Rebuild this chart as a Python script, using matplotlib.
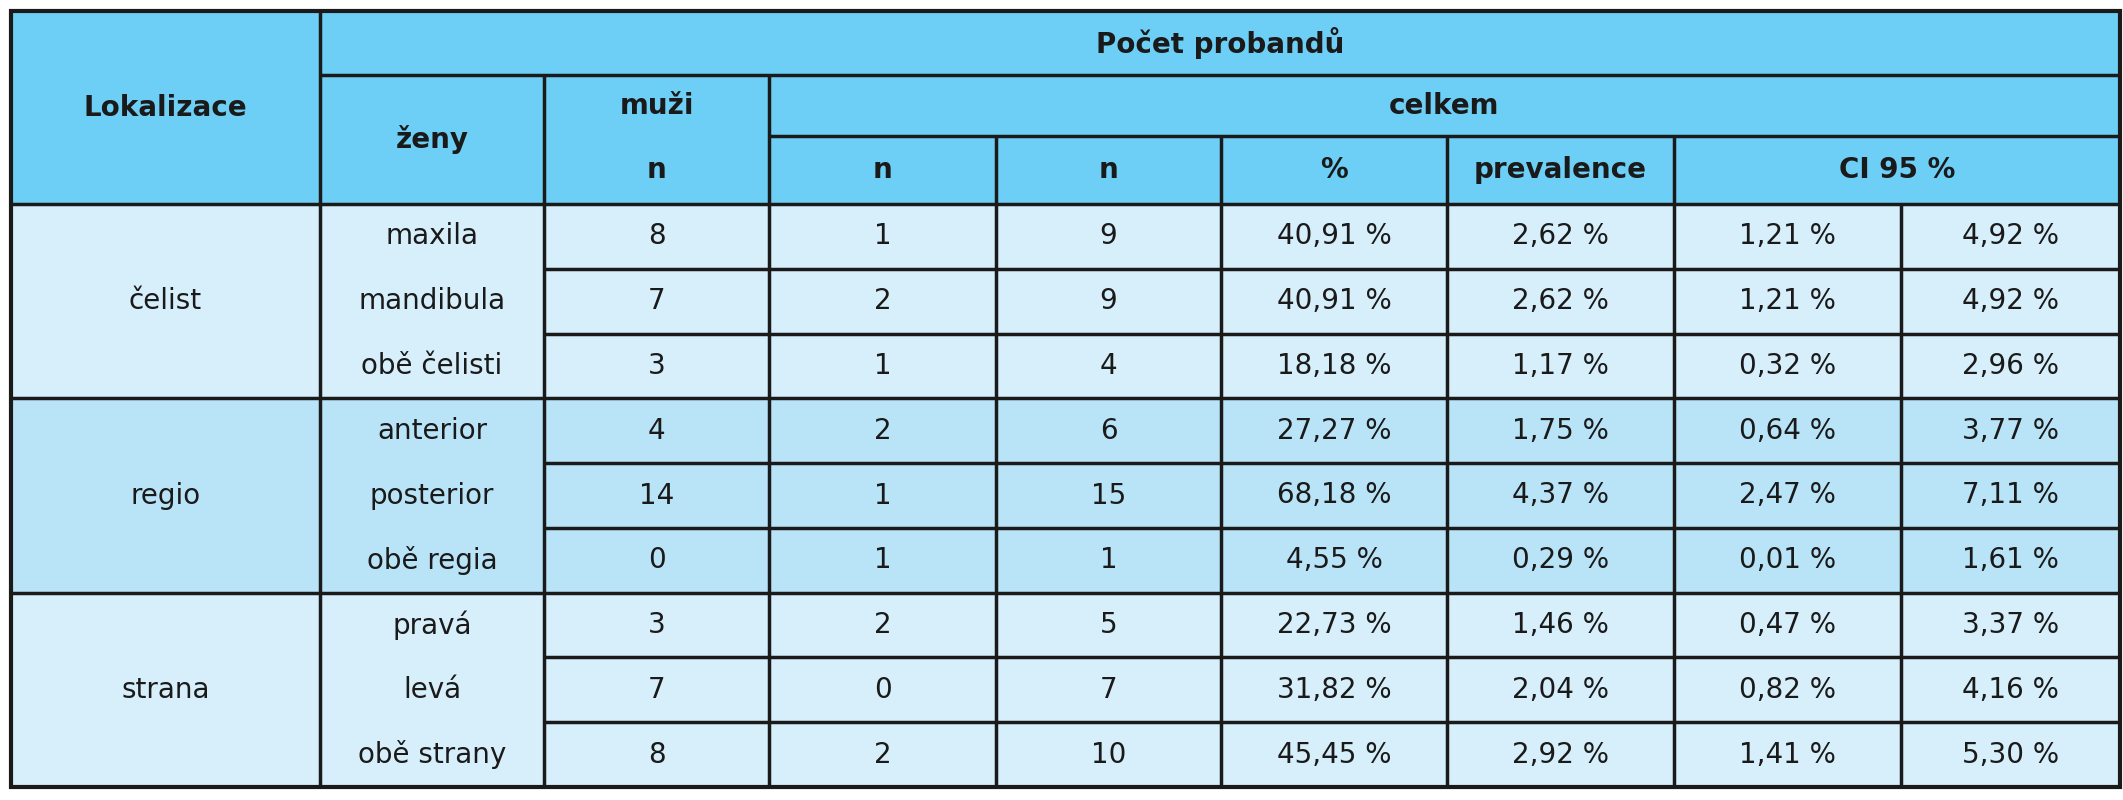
import matplotlib.pyplot as plt
from matplotlib.patches import Rectangle

groups = ["čelist", "regio", "strana"]
subcats = ["maxila", "mandibula", "obě čelisti",
           "anterior", "posterior", "obě regia",
           "pravá", "levá", "obě strany"]
muzi = [8, 7, 3, 4, 14, 0, 3, 7, 8]
n1 = [1, 2, 1, 2, 1, 1, 2, 0, 2]
n2 = [9, 9, 4, 6, 15, 1, 5, 7, 10]
pct = ["40,91 %", "40,91 %", "18,18 %", "27,27 %", "68,18 %", "4,55 %",
       "22,73 %", "31,82 %", "45,45 %"]
prev = ["2,62 %", "2,62 %", "1,17 %", "1,75 %", "4,37 %", "0,29 %",
        "1,46 %", "2,04 %", "2,92 %"]
ci_lo = ["1,21 %", "1,21 %", "0,32 %", "0,64 %", "2,47 %", "0,01 %",
         "0,47 %", "0,82 %", "1,41 %"]
ci_hi = ["4,92 %", "4,92 %", "2,96 %", "3,77 %", "7,11 %", "1,61 %",
         "3,37 %", "4,16 %", "5,30 %"]

plt.rcParams['font.family'] = ['Liberation Sans Narrow', 'DejaVu Sans']

W, H = 2123, 800
fig = plt.figure(figsize=(W / 100, H / 100), dpi=100)
ax = fig.add_axes([0, 0, 1, 1])
ax.set_xlim(0, W)
ax.set_ylim(H, 0)
ax.axis("off")

xs = [11, 320, 544, 769, 996, 1221, 1447, 1674, 1901, 2120]
ys_head = [11, 75, 136, 204]
bottom = 787
rh = (bottom - ys_head[-1]) / 9
ys = [ys_head[-1] + i * rh for i in range(10)]

head_c = "#6dcff6"
light = "#d6effb"
mid = "#b9e4f8"
fs = 20

def cell(x0, x1, y0, y1, color, text="", bold=False):
    ax.add_patch(Rectangle((x0, y0), x1 - x0, y1 - y0, facecolor=color,
                           edgecolor="none"))
    if text != "":
        ax.text((x0 + x1) / 2, (y0 + y1) / 2, str(text), ha="center",
                va="center", fontsize=fs, fontweight="bold" if bold else "normal",
                color="#1a1a1a")

def line(x0, x1, y0, y1, lw=2.5):
    ax.plot([x0, x1], [y0, y1], color="#1a1a1a", lw=lw, solid_capstyle="butt")

# header
cell(xs[0], xs[1], ys_head[0], ys_head[3], head_c, "Lokalizace", True)
cell(xs[1], xs[9], ys_head[0], ys_head[1], head_c, "Počet probandů", True)
cell(xs[1], xs[2], ys_head[1], ys_head[3], head_c, "ženy", True)
cell(xs[2], xs[3], ys_head[1], ys_head[2], head_c, "muži", True)
cell(xs[2], xs[3], ys_head[2], ys_head[3], head_c, "n", True)
cell(xs[3], xs[9], ys_head[1], ys_head[2], head_c, "celkem", True)
for i, lab in enumerate(["n", "n", "%", "prevalence"]):
    cell(xs[3 + i], xs[4 + i], ys_head[2], ys_head[3], head_c, lab, True)
cell(xs[7], xs[9], ys_head[2], ys_head[3], head_c, "CI 95 %", True)

# body
for g, name in enumerate(groups):
    color = mid if g == 1 else light
    cell(xs[0], xs[1], ys[3 * g], ys[3 * g + 3], color, name)
    for r in range(3 * g, 3 * g + 3):
        vals = [subcats[r], muzi[r], n1[r], n2[r], pct[r], prev[r],
                ci_lo[r], ci_hi[r]]
        for c, v in enumerate(vals):
            cell(xs[c + 1], xs[c + 2], ys[r], ys[r + 1], color, v)

# grid lines
line(xs[1], xs[9], ys_head[1], ys_head[1])
line(xs[3], xs[9], ys_head[2], ys_head[2])
for r in range(1, 9):
    x0 = xs[0] if r % 3 == 0 else xs[2]
    line(x0, xs[9], ys[r], ys[r])
line(xs[0], xs[9], ys[0], ys[0])
for c in range(1, 9):
    if c == 1:
        line(xs[c], xs[c], ys_head[0], bottom)
    elif c == 2:
        line(xs[c], xs[c], ys_head[1], bottom)
    elif c == 8:
        line(xs[c], xs[c], ys_head[3], bottom)
    else:
        line(xs[c], xs[c], ys_head[2] if c > 3 else ys_head[1], bottom)
ax.add_patch(Rectangle((xs[0], ys_head[0]), xs[9] - xs[0], bottom - ys_head[0],
                       fill=False, edgecolor="#1a1a1a", lw=3))

fig.savefig("out.png", dpi=100)
